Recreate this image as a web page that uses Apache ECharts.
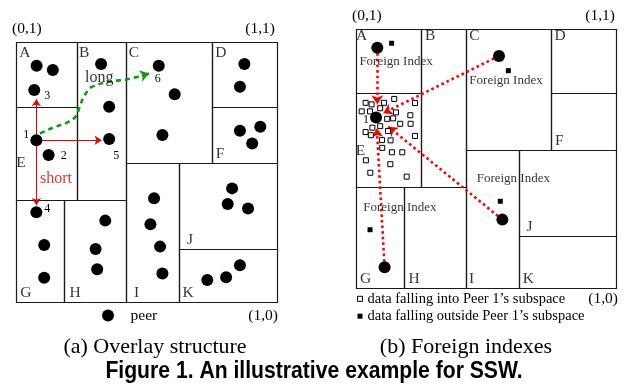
<!DOCTYPE html>
<html>
<head>
<meta charset="utf-8">
<script src="https://cdn.jsdelivr.net/npm/echarts@6/dist/echarts.min.js"></script>
<style>
  html, body { margin: 0; padding: 0; background: #fff; }
  #chart { width: 626px; height: 392px; }
</style>
</head>
<body>
<div id="chart"></div>
<script>
// ---- data (unit-square coordinates: (0,0) bottom-left, (1,1) top-right) ----

const cellNames = ['A', 'B', 'C', 'D', 'E', 'F', 'G', 'H', 'I', 'J', 'K'];

// subspace rectangles [x0, y0, x1, y1], same order as cellNames
const cellsOverlay = [
  [0, 0.751, 0.235, 1], [0.235, 0.392, 0.42, 1], [0.42, 0.533, 0.75, 1], [0.75, 0.751, 1, 1],
  [0, 0.392, 0.235, 0.751], [0.75, 0.533, 1, 0.751], [0, 0, 0.185, 0.392], [0.185, 0, 0.42, 0.392],
  [0.42, 0, 0.625, 0.533], [0.625, 0.202, 1, 0.533], [0.625, 0, 1, 0.202]
];
const cellsForeign = [
  [0, 0.751, 0.249, 1], [0.249, 0.391, 0.422, 1], [0.422, 0.533, 0.75, 1], [0.75, 0.751, 1, 1],
  [0, 0.391, 0.249, 0.751], [0.75, 0.533, 1, 0.751], [0, 0, 0.186, 0.391], [0.186, 0, 0.422, 0.391],
  [0.422, 0, 0.626, 0.533], [0.626, 0.201, 1, 0.533], [0.626, 0, 1, 0.201]
];

// where each subspace letter sits
const cellTagsOverlay = [
  [0.034, 0.958], [0.261, 0.958], [0.452, 0.958], [0.785, 0.958], [0.019, 0.536], [0.782, 0.569],
  [0.038, 0.035], [0.226, 0.035], [0.462, 0.035], [0.667, 0.238], [0.659, 0.035]
];
const cellTagsForeign = [
  [0.022, 0.974], [0.285, 0.974], [0.455, 0.974], [0.785, 0.974], [0.017, 0.530], [0.782, 0.566],
  [0.037, 0.035], [0.223, 0.035], [0.445, 0.035], [0.667, 0.237], [0.663, 0.035]
];

// peers of the overlay and their ids ('' = unnamed)
const peersOverlay = [
  [0.079, 0.909], [0.141, 0.892], [0.070, 0.815],
  [0.326, 0.915], [0.357, 0.751], [0.357, 0.627],
  [0.547, 0.909], [0.608, 0.799], [0.561, 0.642],
  [0.875, 0.915], [0.858, 0.828],
  [0.858, 0.659], [0.936, 0.674], [0.905, 0.610],
  [0.078, 0.622], [0.125, 0.565],
  [0.078, 0.345], [0.108, 0.219], [0.108, 0.093],
  [0.342, 0.313], [0.305, 0.204], [0.311, 0.126],
  [0.529, 0.399], [0.515, 0.299], [0.552, 0.213], [0.561, 0.110],
  [0.828, 0.437], [0.811, 0.377], [0.889, 0.360],
  [0.733, 0.085], [0.805, 0.095], [0.858, 0.141]
];
const peerIdsOverlay = [
  '', '', '3', '', '', '5', '6', '', '', '', '', '', '', '',
  '1', '2', '4', '', '', '', '', '', '', '', '', '', '', '', '', '', '', ''
];

// short links from peer 1 to its neighbours
const shortLinks = [
  [[0.078, 0.622], [0.078, 0.780]],
  [[0.078, 0.622], [0.328, 0.622]],
  [[0.078, 0.622], [0.078, 0.373]]
];
// long link from peer 1 to peer 6
const longPath = [
  [0.092, 0.648], [0.138, 0.669], [0.199, 0.692], [0.230, 0.715], [0.245, 0.754],
  [0.261, 0.792], [0.291, 0.827], [0.360, 0.848], [0.425, 0.856], [0.483, 0.871]
];
const longTip = [0.510, 0.879];

// foreign-index panel
const peersForeign = [[0.082, 0.928], [0.550, 0.896], [0.077, 0.658], [0.563, 0.264], [0.110, 0.080]];
const peerIdsForeign = ['', '', '1', '', ''];
const dataInside = [
  [0.147, 0.730], [0.227, 0.714], [0.037, 0.715], [0.060, 0.709], [0.108, 0.715], [0.093, 0.694],
  [0.022, 0.682], [0.054, 0.682], [0.154, 0.678], [0.209, 0.667], [0.120, 0.653], [0.143, 0.655],
  [0.170, 0.634], [0.210, 0.634], [0.037, 0.602], [0.093, 0.625], [0.063, 0.619], [0.123, 0.606],
  [0.057, 0.590], [0.227, 0.587], [0.100, 0.571], [0.133, 0.570], [0.101, 0.541], [0.138, 0.524],
  [0.178, 0.524], [0.038, 0.493], [0.132, 0.478], [0.055, 0.445], [0.195, 0.430]
];
const dataOutside = [[0.137, 0.945], [0.586, 0.839], [0.555, 0.335], [0.054, 0.225]];
const foreignIndexTags = [[0.154, 0.876], [0.577, 0.800], [0.605, 0.421], [0.169, 0.310]];
const foreignLinks = [
  [[0.082, 0.928], [0.082, 0.709]],
  [[0.550, 0.896], [0.105, 0.675]],
  [[0.563, 0.264], [0.124, 0.623]],
  [[0.110, 0.080], [0.080, 0.617]]
];

const NAME_IN = 'data falling into Peer 1\u2019s subspace';
const NAME_OUT = 'data falling outside Peer 1\u2019s subspace';

// ---- styling / layout ----
const SERIF = "'Liberation Serif', 'Times New Roman', serif";
const SANS = "'Liberation Sans', Arial, sans-serif";
const idOffsets = { '1': [-10, -5], '2': [15, 1], '3': [13, 6], '4': [11, -3], '5': [7, 17], '6': [-1, 13] };
const idOffsetsForeign = { '1': [-10, 2] };

function cellSeries(cells, gi) {
  return {
    type: 'custom', xAxisIndex: gi, yAxisIndex: gi, silent: true, z: 1,
    data: cells,
    renderItem(params, api) {
      const p0 = api.coord([api.value(0), api.value(3)]);
      const p1 = api.coord([api.value(2), api.value(1)]);
      const x0 = Math.round(p0[0]) + 0.5, y0 = Math.round(p0[1]) + 0.5;
      const x1 = Math.round(p1[0]) + 0.5, y1 = Math.round(p1[1]) + 0.5;
      return {
        type: 'rect',
        shape: { x: x0, y: y0, width: x1 - x0, height: y1 - y0 },
        style: { fill: null, stroke: '#1a1a1a', lineWidth: 1.2 }
      };
    }
  };
}

function textSeries(points, texts, gi, style) {
  return {
    type: 'scatter', xAxisIndex: gi, yAxisIndex: gi, silent: true, z: 4,
    symbolSize: 1, itemStyle: { color: 'transparent' },
    label: Object.assign({ show: true, position: 'inside', formatter: '{b}', fontFamily: SERIF, color: '#000' }, style),
    data: points.map((p, i) => ({ value: p, name: texts[i] }))
  };
}

function peerSeries(points, ids, offsets, gi, name) {
  return {
    type: 'scatter', name: name, xAxisIndex: gi, yAxisIndex: gi, silent: true, z: 5,
    symbol: 'circle', symbolSize: 12, itemStyle: { color: '#000', opacity: 1 },
    data: points.map((p, i) => {
      const id = ids[i];
      const item = { value: p, name: id };
      if (id) {
        item.label = {
          show: true, position: 'inside', formatter: '{b}', offset: offsets[id],
          fontFamily: SERIF, fontSize: 12, color: '#000'
        };
      }
      return item;
    })
  };
}

const axisBase = { type: 'value', min: 0, max: 1, show: false };

const option = {
  animation: false,
  backgroundColor: '#fff',
  grid: [
    { left: 16, top: 42, width: 261, height: 260 },
    { left: 356, top: 29, width: 260, height: 259 }
  ],
  xAxis: [Object.assign({ gridIndex: 0 }, axisBase), Object.assign({ gridIndex: 1 }, axisBase)],
  yAxis: [Object.assign({ gridIndex: 0 }, axisBase), Object.assign({ gridIndex: 1 }, axisBase)],
  legend: [
    {
      data: [{ name: 'peer', icon: 'circle', itemStyle: { color: '#000', opacity: 1 } }],
      left: 102, top: 307.5, padding: 0,
      itemWidth: 35, itemHeight: 12, selectedMode: false,
      textStyle: { fontFamily: SERIF, fontSize: 15.5, color: '#000', lineHeight: 16 }
    },
    {
      orient: 'vertical',
      data: [
        { name: NAME_IN, icon: 'rect', itemStyle: { color: '#fff', borderColor: '#000', borderWidth: 1 } },
        { name: NAME_OUT, icon: 'rect', itemStyle: { color: '#000', borderWidth: 0 } }
      ],
      left: 357, top: 290.3, padding: 0,
      itemWidth: 5, itemHeight: 5, itemGap: 0.4, selectedMode: false,
      textStyle: { fontFamily: SERIF, fontSize: 14.5, color: '#000', lineHeight: 17 }
    }
  ],
  series: [
    // (a) overlay structure
    cellSeries(cellsOverlay, 0),
    textSeries(cellTagsOverlay, cellNames, 0, { fontSize: 15.5 }),
    {
      type: 'lines', coordinateSystem: 'cartesian2d', xAxisIndex: 0, yAxisIndex: 0, silent: true, z: 3,
      symbol: ['none', 'arrow'], symbolSize: 7,
      lineStyle: { color: '#e60000', width: 1, opacity: 1, curveness: 0 },
      data: shortLinks.map(c => ({ coords: c }))
    },
    {
      type: 'line', xAxisIndex: 0, yAxisIndex: 0, silent: true, z: 3,
      data: longPath, smooth: 0.35, symbol: 'none', showSymbol: false,
      lineStyle: { color: '#119a11', width: 2.6, type: [5, 4] }
    },
    {
      type: 'lines', coordinateSystem: 'cartesian2d', xAxisIndex: 0, yAxisIndex: 0, silent: true, z: 3,
      symbol: ['none', 'arrow'], symbolSize: 9,
      lineStyle: { color: '#119a11', width: 2.6, opacity: 1, curveness: 0 },
      data: [{ coords: [longPath[longPath.length - 1], longTip] }]
    },
    textSeries([[0.319, 0.864]], ['long'], 0, { fontSize: 16 }),
    textSeries([[0.153, 0.473]], ['short'], 0, { fontSize: 16, color: '#e60000' }),
    peerSeries(peersOverlay, peerIdsOverlay, idOffsets, 0, 'peer'),

    // (b) foreign indexes
    cellSeries(cellsForeign, 1),
    textSeries(cellTagsForeign, cellNames, 1, { fontSize: 15.5 }),
    {
      type: 'lines', coordinateSystem: 'cartesian2d', xAxisIndex: 1, yAxisIndex: 1, silent: true, z: 3,
      symbol: ['none', 'arrow'], symbolSize: 9,
      lineStyle: { color: '#ff0000', width: 2.6, opacity: 1, curveness: 0, type: [2.6, 3] },
      data: foreignLinks.map(c => ({ coords: c }))
    },
    {
      type: 'scatter', name: NAME_IN, xAxisIndex: 1, yAxisIndex: 1, silent: true, z: 4,
      symbol: 'rect', symbolSize: 5,
      itemStyle: { color: '#fff', borderColor: '#000', borderWidth: 1, opacity: 1 },
      data: dataInside
    },
    {
      type: 'scatter', name: NAME_OUT, xAxisIndex: 1, yAxisIndex: 1, silent: true, z: 4,
      symbol: 'rect', symbolSize: 5, itemStyle: { color: '#000', opacity: 1 },
      data: dataOutside
    },
    textSeries(foreignIndexTags, foreignIndexTags.map(() => 'Foreign Index'), 1, { fontSize: 13 }),
    peerSeries(peersForeign, peerIdsForeign, idOffsetsForeign, 1, 'foreign peer')
  ],
  graphic: [
    { type: 'text', left: 12, top: 21, style: { text: '(0,1)', font: '15.5px ' + SERIF, fill: '#000' } },
    { type: 'text', right: 351, top: 21, style: { text: '(1,1)', font: '15.5px ' + SERIF, fill: '#000' } },
    { type: 'text', right: 348, top: 307.5, style: { text: '(1,0)', font: '15.5px ' + SERIF, fill: '#000' } },
    { type: 'text', left: 352, top: 7.5, style: { text: '(0,1)', font: '15.5px ' + SERIF, fill: '#000' } },
    { type: 'text', right: 11, top: 7.5, style: { text: '(1,1)', font: '15.5px ' + SERIF, fill: '#000' } },
    { type: 'text', right: 8, top: 290.5, style: { text: '(1,0)', font: '15.5px ' + SERIF, fill: '#000' } },
    { type: 'text', x: 155, y: 347, style: { text: '(a) Overlay structure', font: '22px ' + SERIF, fill: '#000', align: 'center', verticalAlign: 'middle' } },
    { type: 'text', x: 466, y: 347, style: { text: '(b) Foreign indexes', font: '22px ' + SERIF, fill: '#000', align: 'center', verticalAlign: 'middle' } },
    // bold sans caption, drawn slightly condensed
    { type: 'text', x: 314, y: 372, scaleX: 0.9, style: { text: 'Figure 1. An illustrative example for SSW.', font: 'bold 23.5px ' + SANS, fill: '#000', align: 'center', verticalAlign: 'middle' } }
  ]
};

const chart = echarts.init(document.getElementById('chart'), null, { renderer: 'canvas' });
chart.setOption(option);
</script>
</body>
</html>
